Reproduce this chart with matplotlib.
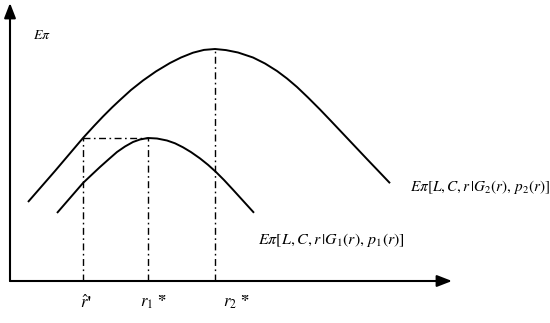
import matplotlib.pyplot as plt

# schematic values (arbitrary units, origin at the axes corner)
big_r = [18, 45, 73, 84, 93, 102, 110, 121, 133, 146, 160, 171, 183, 194, 205,
         216, 228, 243, 255, 267, 277, 287, 298, 310, 321, 333, 345, 357, 368, 380]
big_e = [79, 110, 143, 155, 164.5, 173.5, 181, 191, 200.5, 209.6, 218, 223.5, 228.3, 231.1, 232,
         230.9, 228.5, 223.5, 217.5, 210, 202.5, 194, 183.5, 171.5, 160, 147.3, 134.6, 121.9, 110.4, 97.8]

small_r = [47, 60, 73, 82, 90, 99, 107, 115, 123, 130, 138,
           147, 157, 165, 173, 181, 190, 198, 206, 214, 223, 233, 244]
small_e = [68, 83, 98, 106.5, 114, 122, 129, 134.5, 139, 141.5, 143,
           142.5, 140.5, 137.7, 133.7, 128.9, 122.6, 116.2, 109, 101, 91.3, 80.3, 68.2]

r_hat = 73
r1_star = 138
r2_star = 205
peak_small = 143
peak_big = 232

label_big = r"$E\pi[L,C,r\,|G_2(r),\,p_2(r)]$"
label_small = r"$E\pi[L,C,r\,|G_1(r),\,p_1(r)]$"

plt.rcParams["mathtext.fontset"] = "stix"
plt.rcParams["font.family"] = "STIXGeneral"

fig = plt.figure(figsize=(5.5, 3.23), dpi=100)
ax = fig.add_axes([10 / 550, 42 / 323, 442 / 550, 278 / 323])
ax.set_xlim(0, 442)
ax.set_ylim(0, 278)
ax.axis("off")

# axes with arrow heads
arrow = dict(arrowstyle="-|>,head_length=0.9,head_width=0.35", color="black", lw=1.5,
             shrinkA=0, shrinkB=0)
ax.annotate("", xy=(442, 0), xytext=(0, 0), arrowprops=arrow, annotation_clip=False)
ax.annotate("", xy=(0, 278), xytext=(0, 0), arrowprops=arrow, annotation_clip=False)

# curves
ax.plot(big_r, big_e, color="black", lw=1.4, solid_capstyle="butt",
        solid_joinstyle="round", clip_on=False)
ax.plot(small_r, small_e, color="black", lw=1.4, solid_capstyle="butt",
        solid_joinstyle="round", clip_on=False)

# dash-dot guide lines
dd = dict(color="black", lw=1.0, linestyle=(0, (5, 2.5, 1.2, 2.5)))
ax.plot([r_hat, r_hat], [0, peak_small], **dd)
ax.plot([r1_star, r1_star], [0, peak_small], **dd)
ax.plot([r_hat, r1_star], [peak_small, peak_small], **dd)
ax.plot([r2_star, r2_star], [0, peak_big], **dd)

# labels
ax.text(23, 246, r"$E\pi$", fontsize=10, va="center", ha="left")
ax.text(400, 94, label_big, fontsize=11, va="center", ha="left", clip_on=False)
ax.text(248, 41, label_small, fontsize=11.5, va="center", ha="left", clip_on=False)
ax.text(76, -21, r"$\hat{r}$'", fontsize=12, va="center", ha="center", fontweight="bold")
ax.text(130, -21, r"$r_1$ *", fontsize=12, va="center", ha="left", fontweight="bold")
ax.text(213, -21, r"$r_2$ *", fontsize=12, va="center", ha="left", fontweight="bold")

fig.savefig("out.png", dpi=100)
